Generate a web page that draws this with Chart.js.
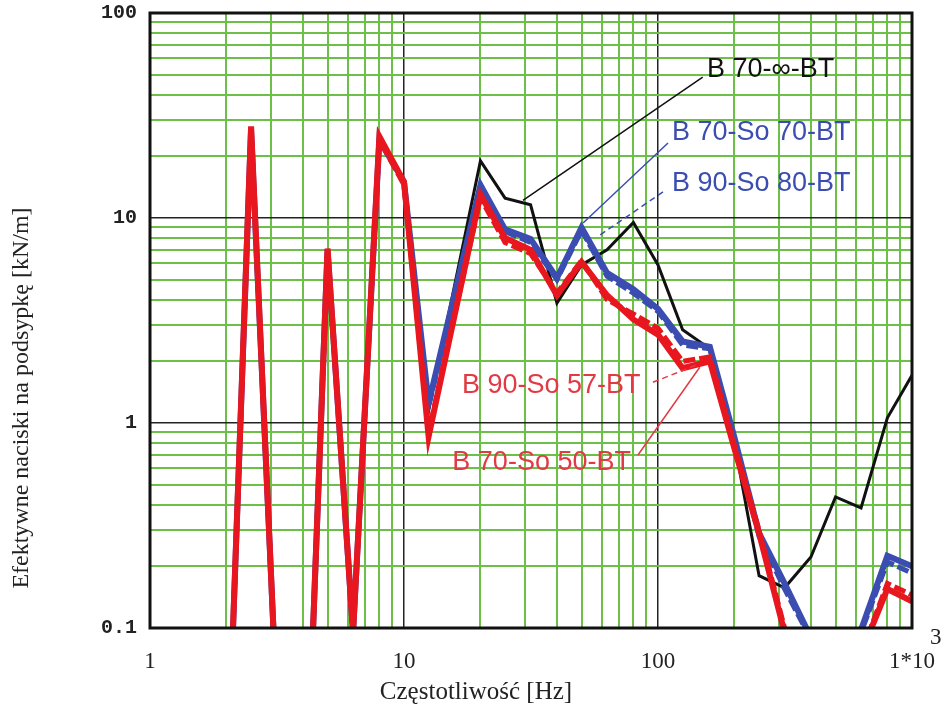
<!DOCTYPE html>
<html>
<head>
<meta charset="utf-8">
<script src="https://cdn.jsdelivr.net/npm/chart.js@4.4.0/dist/chart.umd.min.js"></script>
<style>
  html, body { margin: 0; padding: 0; background: #fff; }
</style>
</head>
<body>
<canvas id="chart" width="941" height="713"></canvas>
<script>
// 1/3-octave band centre frequencies [Hz]
let freq = [2, 2.5, 3.15, 4, 5, 6.3, 8, 10, 12.5, 20, 25, 31.5, 40, 50, 63, 80, 100, 125, 160, 200, 250, 315, 400, 500, 630, 800, 1000];

// effective forces on the sub-ballast [kN/m]
let b70_inf_bt   = [0.013, 27, 0.045, 0.005, 7.0, 0.095, 24, 15, 1.15, 19, 12.5, 11.6, 3.85, 5.9, 7.0, 9.5, 5.9, 2.85, 2.3, 0.8, 0.18, 0.157, 0.222, 0.436, 0.385, 1.06, 1.71];
let b70_so70_bt  = [0.013, 27, 0.045, 0.005, 7.0, 0.095, 24, 15, 1.25, 14.5, 8.8, 7.9, 5.1, 9.0, 5.4, 4.5, 3.6, 2.5, 2.35, 0.85, 0.29, 0.165, 0.09, 0.03, 0.098, 0.225, 0.2];
let b90_so80_bt  = [0.013, 27, 0.045, 0.005, 7.0, 0.095, 24, 14.8, 1.2, 14, 8.6, 7.6, 5.0, 8.7, 5.2, 4.3, 3.5, 2.4, 2.3, 0.82, 0.28, 0.155, 0.088, 0.03, 0.095, 0.21, 0.185];
let b90_so57_bt  = [0.013, 27, 0.045, 0.005, 7.0, 0.095, 24, 14.5, 0.9, 12.5, 7.6, 6.7, 4.3, 6.2, 4.0, 3.4, 2.9, 2.0, 2.1, 0.78, 0.3, 0.1, 0.02, 0.01, 0.075, 0.165, 0.145];
let b70_so50_bt  = [0.013, 28, 0.045, 0.005, 7.1, 0.095, 25, 15, 0.86, 13, 8.0, 7.0, 4.2, 6.1, 4.2, 3.2, 2.7, 1.85, 2.0, 0.75, 0.29, 0.095, 0.02, 0.01, 0.075, 0.155, 0.135];

let red = "#e8171f";
let blue = "#3b4db0";
let black = "#111111";
let green = "#6cbf47";

// text labels with leader lines, given in data units [freq, value]
let notes = [
  { text: "B 70-\u221E-BT", color: black, at: [156, 52.7], from: [150, 48.7], to: [29.4, 12.2], dash: [] },
  { text: "B 70-So 70-BT", color: blue, at: [113.5, 26], from: [109.5, 23.2], to: [50.7, 9.46], dash: [] },
  { text: "B 90-So 80-BT", color: blue, at: [113.5, 14.8], from: [104.6, 13.4], to: [57.5, 8.07], dash: [6, 4] },
  { text: "B 90-So 57-BT", color: "#e23a44", at: [16.9, 1.53], from: [95.5, 1.58], to: [142, 1.92], dash: [6, 4] },
  { text: "B 70-So 50-BT", color: "#e23a44", at: [15.5, 0.638], from: [83.4, 0.698], to: [146, 1.87], dash: [] }
];

function decadeTicks(fromExp, toExp) {
  let out = [];
  for (let e = fromExp; e < toExp; e++) {
    for (let s = 1; s < 10; s++) out.push({ value: +(s * Math.pow(10, e)).toPrecision(3) });
  }
  out.push({ value: Math.pow(10, toExp) });
  return out;
}

function isDecade(v) {
  let l = Math.log10(v);
  return Math.abs(l - Math.round(l)) < 1e-6;
}

let notesPlugin = {
  id: "notes",
  afterDatasetsDraw(chart) {
    let ctx = chart.ctx;
    let xs = chart.scales.x, ys = chart.scales.y;
    let a = chart.chartArea;
    ctx.save();
    notes.forEach(n => {
      ctx.strokeStyle = n.color;
      ctx.lineWidth = 1.5;
      ctx.setLineDash(n.dash);
      ctx.beginPath();
      ctx.moveTo(xs.getPixelForValue(n.from[0]), ys.getPixelForValue(n.from[1]));
      ctx.lineTo(xs.getPixelForValue(n.to[0]), ys.getPixelForValue(n.to[1]));
      ctx.stroke();
      ctx.setLineDash([]);
      ctx.fillStyle = n.color;
      ctx.font = "27px 'Liberation Sans', Arial, sans-serif";
      ctx.textBaseline = "middle";
      ctx.textAlign = "left";
      ctx.fillText(n.text, xs.getPixelForValue(n.at[0]), ys.getPixelForValue(n.at[1]));
    });
    // frame
    ctx.strokeStyle = "#111";
    ctx.lineWidth = 3;
    ctx.strokeRect(a.left, a.top, a.right - a.left, a.bottom - a.top);
    ctx.restore();
  },
  afterDraw(chart) {
    let ctx = chart.ctx;
    let xs = chart.scales.x;
    ctx.save();
    ctx.fillStyle = "#222";
    ctx.font = "23px 'Liberation Serif', 'Times New Roman', serif";
    ctx.textAlign = "left";
    ctx.textBaseline = "middle";
    ctx.fillText("3", xs.getPixelForValue(1000) + 18, 638);
    ctx.textAlign = "center";
    ctx.font = "25px 'Liberation Serif', 'Times New Roman', serif";
    ctx.fillText("Cz\u0119stotliwo\u015B\u0107 [Hz]", 476, 692);
    ctx.translate(22, 398);
    ctx.rotate(-Math.PI / 2);
    ctx.font = "24px 'Liberation Serif', 'Times New Roman', serif";
    ctx.fillText("Efektywne naciski na podsypk\u0119 [kN/m]", 0, 0);
    ctx.restore();
  }
};

function series(label, data, color, width, dash) {
  return {
    label: label,
    data: freq.map((f, i) => ({ x: f, y: data[i] })),
    borderColor: color,
    borderWidth: width,
    borderDash: dash,
    pointRadius: 0,
    tension: 0,
    fill: false
  };
}

new Chart(document.getElementById("chart"), {
  type: "line",
  data: {
    datasets: [
      series("B 70-So 50-BT", b70_so50_bt, red, 6, []),
      series("B 90-So 57-BT", b90_so57_bt, red, 5, [12, 4]),
      series("B 70-So 70-BT", b70_so70_bt, blue, 6, []),
      series("B 90-So 80-BT", b90_so80_bt, blue, 5, [12, 4]),
      series("B 70-\u221E-BT", b70_inf_bt, black, 3, [])
    ]
  },
  options: {
    responsive: false,
    animation: false,
    devicePixelRatio: 1,
    layout: { padding: { top: 13, right: 29, left: 0, bottom: 0 } },
    plugins: { legend: { display: false }, tooltip: { enabled: false } },
    scales: {
      x: {
        type: "logarithmic",
        min: 1,
        max: 1000,
        afterBuildTicks: s => { s.ticks = decadeTicks(0, 3); },
        afterFit: s => { s.height = 85; s.paddingLeft = 0; s.paddingRight = 0; },
        border: { display: false },
        grid: {
          drawTicks: false,
          color: c => isDecade(c.tick.value) ? "#222" : green,
          lineWidth: c => isDecade(c.tick.value) ? 1.5 : 2
        },
        ticks: {
          autoSkip: false,
          maxRotation: 0,
          padding: 20,
          color: "#222",
          font: { family: "'Liberation Serif', 'Times New Roman', serif", size: 23 },
          callback: v => {
            if (!isDecade(v)) return "";
            return v === 1000 ? "1*10" : String(v);
          }
        }
      },
      y: {
        type: "logarithmic",
        min: 0.1,
        max: 100,
        afterBuildTicks: s => { s.ticks = decadeTicks(-1, 2); },
        afterFit: s => { s.width = 150; s.paddingTop = 0; s.paddingBottom = 0; },
        border: { display: false },
        grid: {
          drawTicks: false,
          color: c => isDecade(c.tick.value) ? "#222" : green,
          lineWidth: c => isDecade(c.tick.value) ? 1.5 : 2
        },
        ticks: {
          autoSkip: false,
          padding: 13,
          color: "#222",
          font: { family: "'Liberation Mono', 'Courier New', monospace", size: 20, weight: "bold" },
          callback: v => isDecade(v) ? String(v) : ""
        }
      }
    }
  },
  plugins: [notesPlugin]
});
</script>
</body>
</html>
